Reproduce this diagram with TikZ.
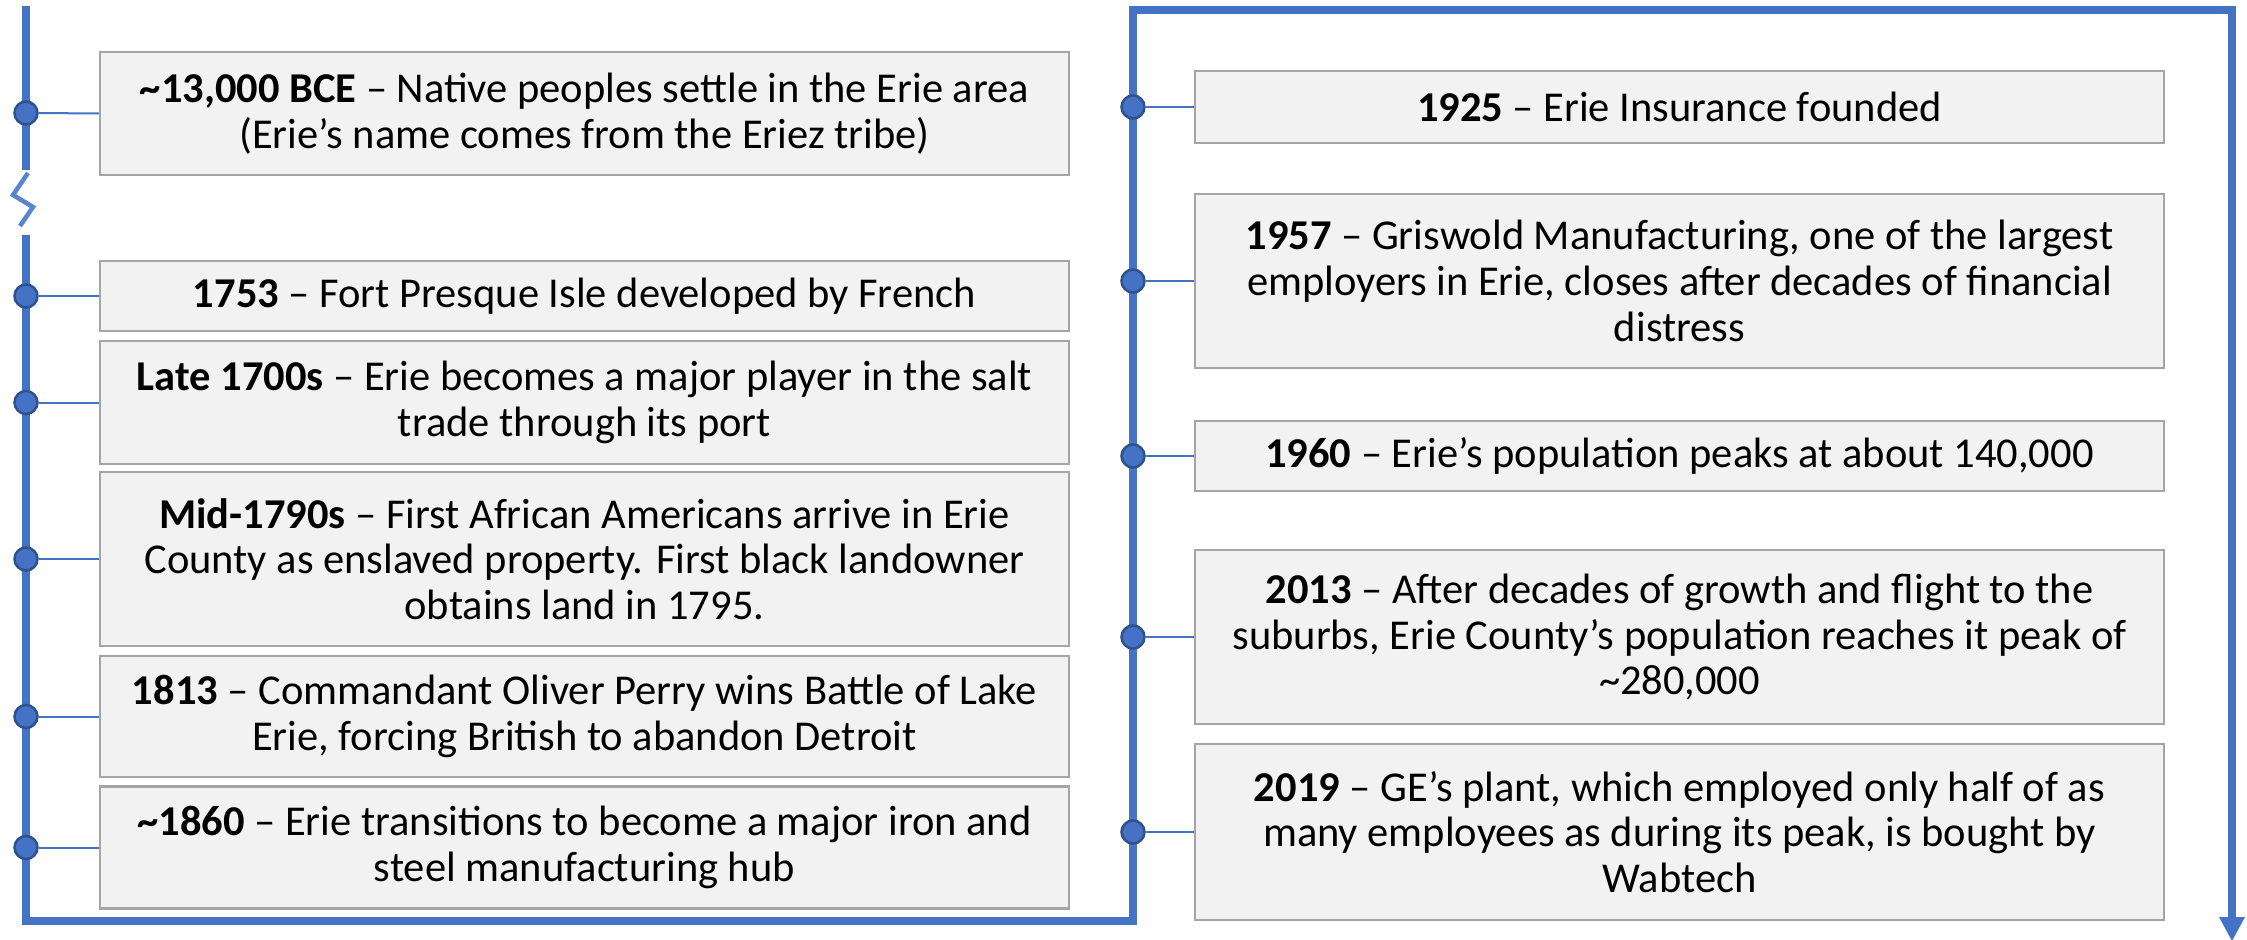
\documentclass[tikz,border=0pt]{standalone}
\usepackage{fontspec}
\setmainfont{Carlito}
\definecolor{tlblue}{HTML}{4472C4}
\definecolor{tldark}{HTML}{2F528F}
\definecolor{boltblue}{HTML}{5B84CE}
\definecolor{boxgray}{HTML}{A5A5A5}
\definecolor{boxfill}{HTML}{F2F2F2}
\newcommand{\evtfont}{\fontsize{42.5pt}{45.7pt}\selectfont}
\begin{document}
\begin{tikzpicture}[x=1pt,y=-1pt,
  evbox/.style={draw=boxgray, fill=boxfill, line width=2.5pt, minimum width=969pt,
    align=center, inner sep=0pt, font=\evtfont, text=black},
  tdot/.style={circle, fill=tlblue, draw=tldark, line width=2.5pt, minimum size=23pt, inner sep=0pt},
  conn/.style={draw=tlblue, line width=2pt},
  mainline/.style={draw=tlblue, line width=8pt}]
\useasboundingbox (0,0) rectangle (2247,940);

% main timeline lines
\coordinate (ltop) at (26,6);
\coordinate (lbreakA) at (26,170);
\coordinate (lbreakB) at (26,235);
\coordinate (lcorner) at (26,920.5);
\coordinate (mcorner) at (1133,920.5);
\coordinate (mtop) at (1133,10);
\coordinate (rtop) at (2232,10);
\coordinate (rbase) at (2232,920);
\coordinate (rbaseL) at (2219,917);
\coordinate (rbaseR) at (2245,917);
\coordinate (rend) at (2232,941);
\draw[mainline] (ltop) -- (lbreakA);
\draw[mainline] (lbreakB) -- (lcorner) -- (mcorner) -- (mtop) -- (rtop) -- (rbase);
\fill[tlblue] (rbaseL) -- (rbaseR) -- (rend) -- cycle;

% break symbol
\coordinate (bA) at (28,173);
\coordinate (bB) at (13,195);
\coordinate (bC) at (33,207);
\coordinate (bD) at (20,226);
\draw[draw=boltblue, line width=4.5pt, line join=miter] (bA) -- (bB) -- (bC) -- (bD);

% left boxes
\node[evbox, minimum height=123pt] (L1) at (584.5,113.5) {\textbf{\textasciitilde13,000 BCE} – Native peoples settle in the Erie area\\(Erie’s name comes from the Eriez tribe)};
\node[evbox, minimum height=70pt] (L2) at (584.5,296) {\textbf{1753} – Fort Presque Isle developed by French};
\node[evbox, minimum height=123pt] (L3) at (584.5,402.5) {\textbf{Late 1700s} – Erie becomes a major player in the salt\\trade through its port};
\node[evbox, minimum height=174pt] (L4) at (584.5,559) {\textbf{Mid-1790s} – First African Americans arrive in Erie\\County as enslaved property. First black landowner\\obtains land in 1795.};
\node[evbox, minimum height=121pt] (L5) at (584.5,716.5) {\textbf{1813} – Commandant Oliver Perry wins Battle of Lake\\Erie, forcing British to abandon Detroit};
\node[evbox, minimum height=122pt] (L6) at (584.5,847.5) {\textbf{\textasciitilde1860} – Erie transitions to become a major iron and\\steel manufacturing hub};

% right boxes
\node[evbox, minimum height=72pt] (R1) at (1679.5,107) {\textbf{1925} – Erie Insurance founded};
\node[evbox, minimum height=174pt] (R2) at (1679.5,281) {\textbf{1957} – Griswold Manufacturing, one of the largest\\employers in Erie, closes after decades of financial\\distress};
\node[evbox, minimum height=70pt] (R3) at (1679.5,456) {\textbf{1960} – Erie’s population peaks at about 140,000};
\node[evbox, minimum height=174pt] (R4) at (1679.5,637) {\textbf{2013} – After decades of growth and flight to the\\suburbs, Erie County’s population reaches it peak of\\\textasciitilde280,000};
\node[evbox, minimum height=176pt] (R5) at (1679.5,832) {\textbf{2019} – GE’s plant, which employed only half of as\\many employees as during its peak, is bought by\\Wabtech};

% dots
\node[tdot] (dL1) at (26,113) {};
\node[tdot] (dL2) at (26,296) {};
\node[tdot] (dL3) at (26,402.5) {};
\node[tdot] (dL4) at (26,559) {};
\node[tdot] (dL5) at (26,716.5) {};
\node[tdot] (dL6) at (26,847.5) {};
\node[tdot] (dR1) at (1133,107) {};
\node[tdot] (dR2) at (1133,281) {};
\node[tdot] (dR3) at (1133,456) {};
\node[tdot] (dR4) at (1133,637) {};
\node[tdot] (dR5) at (1133,832) {};

% connectors
\foreach \i in {L1,L2,L3,L4,L5,L6,R1,R2,R3,R4,R5}{
  \draw[conn] (d\i.east) -- (\i.west);
}
\end{tikzpicture}
\end{document}
